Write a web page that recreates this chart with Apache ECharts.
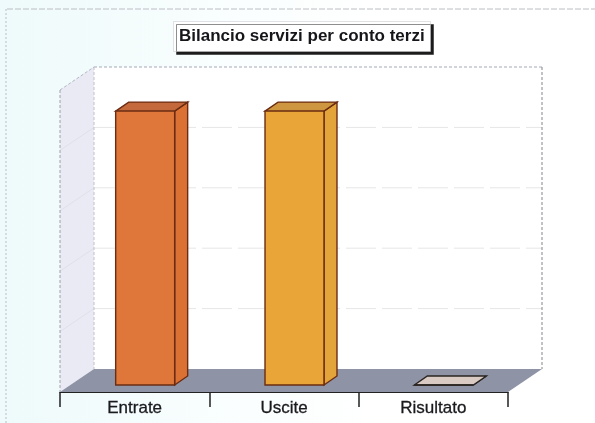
<!DOCTYPE html>
<html><head><meta charset="utf-8">
<style>html,body{margin:0;padding:0;background:#fff}#c{width:595px;height:423px}</style>
<script src="https://cdn.jsdelivr.net/npm/echarts@6/dist/echarts.min.js"></script>
</head><body><div id="c"></div>
<script>
const titleText = 'Bilancio servizi per conto terzi';
const categories = ['Entrate', 'Uscite', 'Risultato'];
const values = [90.7, 90.7, 0];
const valueTicks = [0, 20, 40, 60, 80, 100];
const frontColors = ['#e0773a', '#e9a537', '#d9cbc4'];
const topColors = ['#c4693c', '#cf9640', '#d9cbc4'];
const sideColors = ['#dc7134', '#e3a43a', '#d9cbc4'];

const WALL_DX = 34, WALL_DY = -23;
const BAR_DX = 10.5, BAR_DY = -7, BAR_DEPTH_X = 13, BAR_DEPTH_Y = -9, BAR_RATIO = 0.395;

const chart = echarts.init(document.getElementById('c'), null, {renderer: 'canvas'});

function poly(points, fill, stroke, lw, extra) {
  return {type: 'polygon', shape: {points}, style: Object.assign({fill, stroke: stroke || null, lineWidth: lw || 0}, extra || {})};
}
function renderFrame(params, api) {
  const x0 = params.coordSys.x, x1 = x0 + params.coordSys.width;
  const yb = api.coord([0, 0])[1], yt = api.coord([0, valueTicks[valueTicks.length - 1]])[1];
  const dx = WALL_DX, dy = WALL_DY;
  const children = [
    poly([[x0 + dx, yt + dy], [x1 + dx, yt + dy], [x1 + dx, yb + dy], [x0 + dx, yb + dy]], '#ffffff'),
    poly([[x0, yt], [x0 + dx, yt + dy], [x0 + dx, yb + dy], [x0, yb]], '#e9eaf3'),
    poly([[x0, yb], [x0 + dx, yb + dy], [x1 + dx, yb + dy], [x1, yb]], '#8e93a5')
  ];
  const dash = {lineDash: [3, 2]};
  const ln = (a, b, c, extra) => ({type: 'polyline', shape: {points: [a, b]}, style: Object.assign({stroke: c, lineWidth: 1, fill: null}, extra || {})});
  valueTicks.forEach(v => {
    const y = api.coord([0, v])[1];
    if (v > 0 && v < valueTicks[valueTicks.length - 1]) {
      children.push(ln([x0 + dx, y + dy], [x1 + dx, y + dy], '#e6e6e6', {lineDash: [30, 6]}));
      children.push(ln([x0, y], [x0 + dx, y + dy], '#dfe0e9'));
    }
  });
  children.push(ln([x0 + dx, yt + dy], [x1 + dx, yt + dy], '#a5a8b8', dash));
  children.push(ln([x1 + dx, yt + dy], [x1 + dx, yb + dy], '#85858c', dash));
  children.push(ln([x0 + dx, yt + dy], [x0 + dx, yb + dy], '#c0c2ce', dash));
  children.push(ln([x0, yt], [x0 + dx, yt + dy], '#b4b6c4', dash));
  children.push(ln([x0, yt], [x0, yb], '#a0a1ac', dash));
  return {type: 'group', children};
}
function renderBar(params, api) {
  const i = api.value(0), v = api.value(1);
  const base = api.coord([i, 0]), top = api.coord([i, v]);
  const w = api.size([1, 0])[0] * BAR_RATIO;
  const l = base[0] - w / 2 + BAR_DX, r = l + w;
  const yb = base[1] + BAR_DY, yt = top[1] + BAR_DY;
  const dx = BAR_DEPTH_X, dy = BAR_DEPTH_Y;
  const edge = v > 0 ? '#6a2c12' : '#2a2420';
  return {type: 'group', children: [
    poly([[r, yt], [r + dx, yt + dy], [r + dx, yb + dy], [r, yb]], sideColors[i], edge, 1.4),
    poly([[l, yt], [l + dx, yt + dy], [r + dx, yt + dy], [r, yt]], topColors[i], edge, 1.4),
    poly([[l, yt], [r, yt], [r, yb], [l, yb]], frontColors[i], edge, 1.4)
  ]};
}

chart.setOption({
  animation: false,
  backgroundColor: {type: 'linear', x: 0, y: 0, x2: 1, y2: 0, colorStops: [
    {offset: 0, color: '#eefafb'}, {offset: 0.4, color: '#fafefe'}, {offset: 0.65, color: '#ffffff'}, {offset: 1, color: '#ffffff'}]},
  title: {
    text: titleText, left: 173, top: 21, padding: [7, 6, 7, 6],
    backgroundColor: '#ffffff', borderColor: '#c4c4ca', borderWidth: 0.5,
    shadowColor: '#1c1c1c', shadowBlur: 0, shadowOffsetX: 3, shadowOffsetY: 3,
    textStyle: {fontFamily: 'Liberation Sans', fontSize: 17, fontWeight: 'bold', color: '#15151a'}
  },
  graphic: [
    {type: 'line', shape: {x1: 7, y1: 9, x2: 595, y2: 9}, style: {stroke: '#bcbec2', lineWidth: 1, lineDash: [6, 2]}, silent: true},
    {type: 'line', shape: {x1: 6, y1: 9, x2: 6, y2: 423}, style: {stroke: '#bcbec2', lineWidth: 1, lineDash: [2, 2]}, silent: true}
  ],
  grid: {left: 60, width: 448, top: 90, height: 302},
  xAxis: {
    type: 'category', data: categories, boundaryGap: true,
    axisLine: {show: true, lineStyle: {color: '#222', width: 1.2}},
    axisTick: {show: true, alignWithLabel: false, length: 15, lineStyle: {color: '#222', width: 1.5}},
    axisLabel: {fontFamily: 'Liberation Sans', fontSize: 17, color: '#1a1a1e', margin: 8, textBorderColor: '#1a1a1e', textBorderWidth: 0.3},
    splitLine: {show: false}, z: 5
  },
  yAxis: {type: 'value', min: 0, max: 100, interval: 20, show: false},
  series: [
    {type: 'custom', data: [[0, 0]], renderItem: renderFrame, clip: false, silent: true, z: 1, encode: {x: 0, y: 1}},
    {type: 'custom', data: values.map((v, i) => [i, v]), renderItem: renderBar, clip: false, z: 3, encode: {x: 0, y: 1}}
  ]
});
</script></body></html>
